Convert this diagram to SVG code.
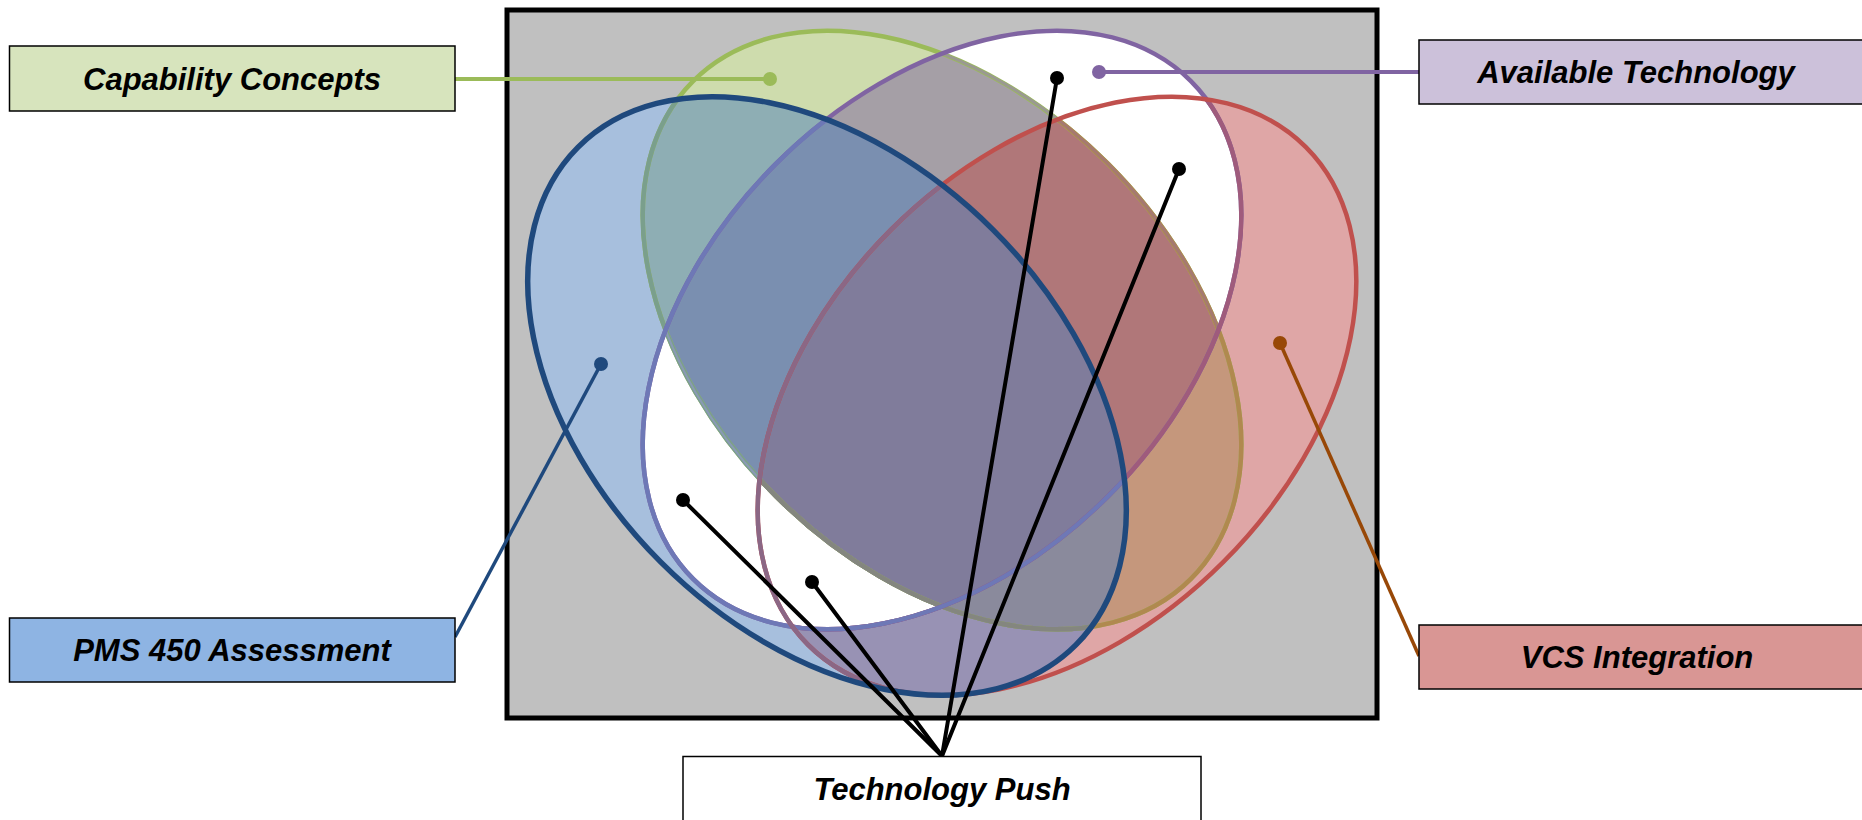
<svg xmlns="http://www.w3.org/2000/svg" xmlns:xlink="http://www.w3.org/1999/xlink" width="1862" height="820" viewBox="0 0 1862 820">
<style>
.lbl{font-family:"Liberation Sans",Arial,sans-serif;font-weight:bold;font-style:italic;font-size:31px;fill:#000;text-anchor:middle}
.box{stroke:#000;stroke-width:1.5}
.blk{stroke:#000;stroke-width:4;fill:none;stroke-linecap:round}
</style>
<defs>
<clipPath id="cG"><ellipse cx="942" cy="330" rx="352" ry="235" transform="rotate(45 942 330)"/></clipPath>
<clipPath id="cP"><ellipse cx="942" cy="330" rx="352" ry="235" transform="rotate(-45 942 330)"/></clipPath>
<clipPath id="cB"><ellipse cx="827" cy="396" rx="352" ry="235" transform="rotate(45 827 396)"/></clipPath>
<clipPath id="cR"><ellipse cx="1057" cy="396" rx="352" ry="235" transform="rotate(-45 1057 396)"/></clipPath>
<ellipse id="eG" cx="942" cy="330" rx="352" ry="235" transform="rotate(45 942 330)"/>
<ellipse id="eP" cx="942" cy="330" rx="352" ry="235" transform="rotate(-45 942 330)"/>
<ellipse id="eB" cx="827" cy="396" rx="352" ry="235" transform="rotate(45 827 396)"/>
<ellipse id="eR" cx="1057" cy="396" rx="352" ry="235" transform="rotate(-45 1057 396)"/>
</defs>

<g id="frame">
<rect x="507" y="10" width="870" height="708" fill="#c0c0c0" stroke="#000" stroke-width="5"/>
</g>

<g id="venn">
<!-- singles -->
<use href="#eG" fill="#cedcad"/>
<use href="#eP" fill="#ffffff"/>
<use href="#eB" fill="#a7bfdd"/>
<use href="#eR" fill="#dfa6a6"/>
<!-- pairs -->
<g clip-path="url(#cG)"><use href="#eP" fill="#a59fa6"/></g>
<g clip-path="url(#cG)"><use href="#eB" fill="#8eaeb4"/></g>
<g clip-path="url(#cG)"><use href="#eR" fill="#c5977c"/></g>
<g clip-path="url(#cP)"><use href="#eB" fill="#ffffff"/></g>
<g clip-path="url(#cP)"><use href="#eR" fill="#ffffff"/></g>
<g clip-path="url(#cB)"><use href="#eR" fill="#9892b4"/></g>
<!-- triples -->
<g clip-path="url(#cG)"><g clip-path="url(#cP)"><use href="#eB" fill="#7a8fb0"/></g></g>
<g clip-path="url(#cG)"><g clip-path="url(#cP)"><use href="#eR" fill="#b07779"/></g></g>
<g clip-path="url(#cG)"><g clip-path="url(#cB)"><use href="#eR" fill="#8a8a9c"/></g></g>
<g clip-path="url(#cP)"><g clip-path="url(#cB)"><use href="#eR" fill="#ffffff"/></g></g>
<!-- quad -->
<g clip-path="url(#cG)"><g clip-path="url(#cP)"><g clip-path="url(#cB)"><use href="#eR" fill="#807c9b"/></g></g></g>

<!-- outlines -->
<g fill="none" stroke-width="4.5">
<use href="#eG" stroke="#9bbb59"/>
<g clip-path="url(#cP)"><use href="#eG" stroke="#9a9a90" stroke-width="3"/></g>
<g clip-path="url(#cR)"><use href="#eG" stroke="#b0894f"/></g>
<g clip-path="url(#cR)"><g clip-path="url(#cP)"><use href="#eG" stroke="#a57a70" stroke-width="3"/></g></g>
<g clip-path="url(#cB)"><use href="#eG" stroke="#7a9f8c"/></g>
<g clip-path="url(#cB)"><g clip-path="url(#cP)"><use href="#eG" stroke="#8a9ab4" stroke-width="2"/></g></g>
<g clip-path="url(#cB)"><g clip-path="url(#cR)"><use href="#eG" stroke="#84867f"/></g></g>

<use href="#eP" stroke="#8064a2"/>
<g clip-path="url(#cR)"><use href="#eP" stroke="#9f5b7c"/></g>
<g clip-path="url(#cB)"><use href="#eP" stroke="#6e78b6"/></g>

<use href="#eR" stroke="#c0504d"/>
<g clip-path="url(#cB)"><use href="#eR" stroke="#8b6785"/></g>

<use href="#eB" stroke="#1f497d" stroke-width="5.5"/>
</g>
</g>

<g id="connectors">
<line x1="455" y1="79" x2="770" y2="79" stroke="#9bbb59" stroke-width="4"/>
<circle cx="770" cy="79" r="7" fill="#9bbb59"/>
<line x1="1099" y1="72" x2="1419" y2="72" stroke="#8064a2" stroke-width="4"/>
<circle cx="1099" cy="72" r="7" fill="#8064a2"/>
<line x1="601" y1="364" x2="455" y2="637" stroke="#1f497d" stroke-width="3.5"/>
<circle cx="601" cy="364" r="7" fill="#1f497d"/>
<line x1="1280" y1="343" x2="1419" y2="656" stroke="#984807" stroke-width="3.5"/>
<circle cx="1280" cy="343" r="7" fill="#984807"/>
<line class="blk" x1="1057" y1="78" x2="942" y2="756"/>
<line class="blk" x1="1179" y1="169" x2="942" y2="756"/>
<line class="blk" x1="683" y1="500" x2="942" y2="756"/>
<line class="blk" x1="812" y1="582" x2="942" y2="756"/>
<circle cx="1057" cy="78" r="7"/>
<circle cx="1179" cy="169" r="7"/>
<circle cx="683" cy="500" r="7"/>
<circle cx="812" cy="582" r="7"/>
</g>

<g id="capability-concepts">
<rect class="box" x="9.5" y="46" width="445.5" height="65" fill="#d7e4bd"/>
<text class="lbl" x="232" y="90">Capability Concepts</text>
</g>
<g id="available-technology">
<rect class="box" x="1419" y="40" width="456" height="64" fill="#ccc1da"/>
<text class="lbl" x="1636" y="83">Available Technology</text>
</g>
<g id="pms-450-assessment">
<rect class="box" x="9.5" y="618" width="445.5" height="64" fill="#8eb4e3"/>
<text class="lbl" x="232" y="661">PMS 450 Assessment</text>
</g>
<g id="vcs-integration">
<rect class="box" x="1419" y="625" width="456" height="64" fill="#d99694"/>
<text class="lbl" x="1637" y="668">VCS Integration</text>
</g>
<g id="technology-push">
<rect class="box" x="683" y="756.5" width="518" height="80" fill="#ffffff"/>
<text class="lbl" x="942" y="800">Technology Push</text>
</g>
</svg>
